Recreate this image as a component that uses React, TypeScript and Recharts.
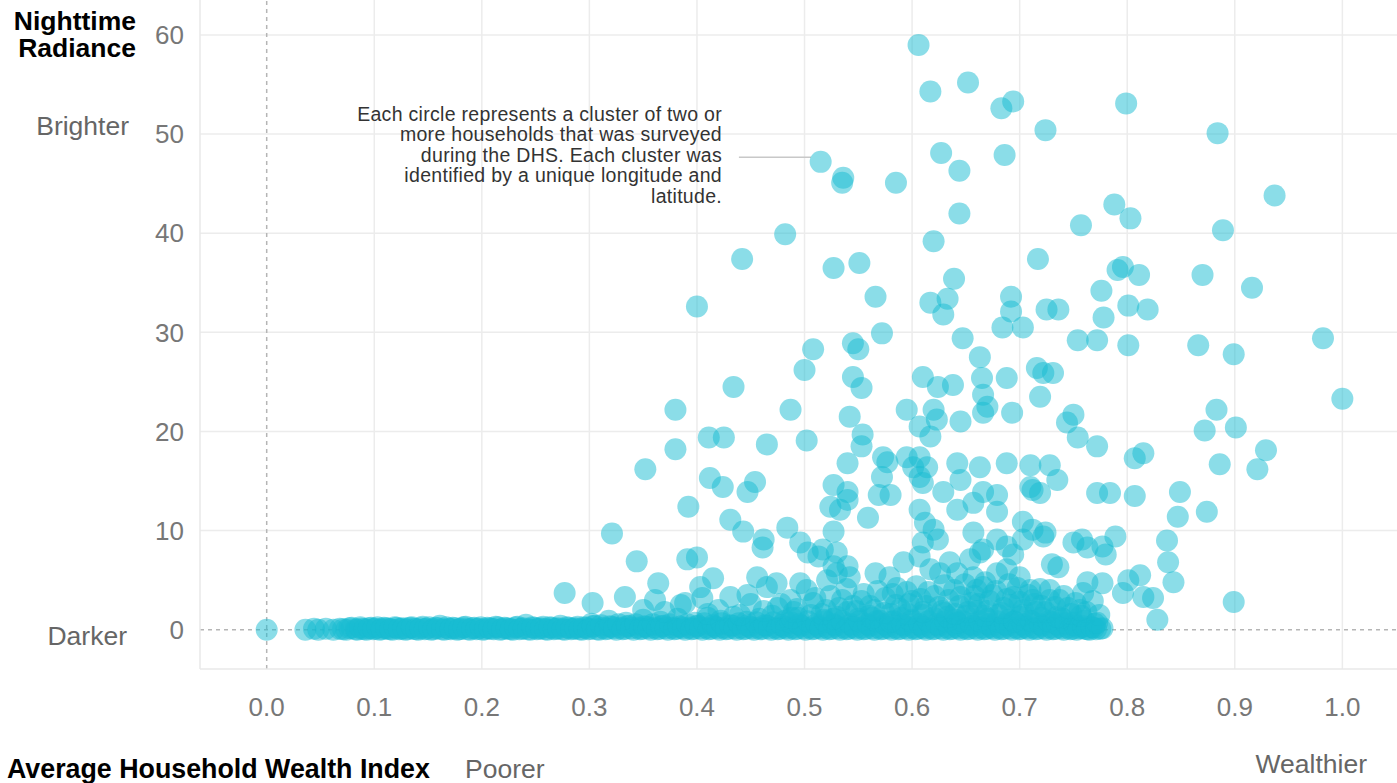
import React from "react";
import {
  ScatterChart,
  Scatter,
  XAxis,
  YAxis,
  CartesianGrid,
  ReferenceLine,
} from "recharts";

// [wealth index, nighttime radiance]
const brightClusters: [number, number][] = [
  [0.606, 59.0], [0.617, 54.3], [0.652, 55.2], [0.683, 52.6], [0.694, 53.3], [0.799, 53.1],
  [0.515, 47.2], [0.536, 45.6], [0.535, 45.1], [0.585, 45.1], [0.627, 48.1], [0.644, 46.3],
  [0.686, 47.9], [0.724, 50.4], [0.884, 50.1], [0.937, 43.8], [0.644, 42.0], [0.788, 42.9],
  [0.803, 41.5], [0.757, 40.8], [0.889, 40.3], [0.482, 39.9], [0.62, 39.2], [0.442, 37.4],
  [0.527, 36.5], [0.551, 37.0], [0.717, 37.4], [0.796, 36.6], [0.791, 36.3], [0.811, 35.8],
  [0.87, 35.8], [0.639, 35.4], [0.776, 34.2], [0.916, 34.5], [0.4, 32.6], [0.566, 33.6],
  [0.617, 33.0], [0.633, 33.4], [0.692, 33.6], [0.692, 32.1], [0.725, 32.3], [0.736, 32.3],
  [0.801, 32.7], [0.819, 32.3], [0.629, 31.8], [0.778, 31.5], [0.572, 29.9], [0.684, 30.5],
  [0.703, 30.5], [0.647, 29.4], [0.545, 28.9], [0.55, 28.3], [0.508, 28.3], [0.754, 29.2],
  [0.772, 29.2], [0.801, 28.7], [0.866, 28.7], [0.899, 27.8], [0.982, 29.4], [0.663, 27.5],
  [0.5, 26.2], [0.716, 26.4], [0.722, 25.9], [0.731, 25.9], [0.61, 25.5], [0.545, 25.5],
  [0.665, 25.4], [0.688, 25.4], [0.553, 24.4], [0.434, 24.5], [0.624, 24.5], [0.638, 24.7],
  [0.666, 23.7], [0.719, 23.5], [1.0, 23.3], [0.595, 22.2], [0.38, 22.2], [0.487, 22.2],
  [0.67, 22.5], [0.693, 21.9], [0.75, 21.7], [0.883, 22.2], [0.542, 21.5], [0.62, 22.2],
  [0.666, 21.9], [0.744, 20.9], [0.901, 20.4], [0.872, 20.1], [0.607, 20.5], [0.645, 21.0],
  [0.623, 21.2],
];

const midClusters: [number, number][] = [
  [0.754, 19.4], [0.411, 19.4], [0.425, 19.4], [0.502, 19.1], [0.554, 19.7], [0.553, 18.5],
  [0.617, 19.5], [0.772, 18.5], [0.815, 17.8], [0.807, 17.3], [0.929, 18.1], [0.38, 18.2],
  [0.465, 18.7], [0.573, 17.4], [0.577, 16.9], [0.595, 17.4], [0.601, 16.4], [0.607, 17.4],
  [0.614, 16.4], [0.642, 16.8], [0.663, 16.4], [0.688, 16.8], [0.71, 16.6], [0.728, 16.6],
  [0.886, 16.7], [0.921, 16.2], [0.352, 16.2], [0.54, 16.8], [0.412, 15.3], [0.424, 14.4],
  [0.712, 14.1], [0.71, 14.4], [0.735, 15.1], [0.645, 15.1], [0.607, 15.4], [0.572, 15.4],
  [0.527, 14.6], [0.447, 13.9], [0.454, 14.9], [0.54, 13.9], [0.569, 13.6], [0.58, 13.6],
  [0.629, 13.9], [0.666, 13.9], [0.679, 13.6], [0.719, 13.8], [0.772, 13.8], [0.784, 13.8],
  [0.807, 13.5], [0.849, 13.9], [0.61, 14.8], [0.392, 12.4], [0.524, 12.4], [0.533, 12.1],
  [0.54, 13.1], [0.559, 11.3], [0.657, 12.8], [0.642, 12.1], [0.679, 11.9], [0.607, 12.1],
  [0.874, 11.9], [0.847, 11.4], [0.431, 11.1], [0.612, 10.8], [0.703, 10.9],
];

const lowClusters: [number, number][] = [
  [0.443, 9.9], [0.484, 10.3], [0.527, 9.9], [0.62, 10.1], [0.624, 9.1], [0.657, 9.8],
  [0.712, 10.1], [0.724, 9.8], [0.321, 9.7], [0.75, 8.8], [0.758, 9.1], [0.763, 8.3],
  [0.837, 9.0], [0.777, 8.4], [0.789, 9.4], [0.462, 9.1], [0.461, 8.3], [0.496, 8.8],
  [0.503, 7.8], [0.513, 7.4], [0.53, 7.8], [0.517, 8.1], [0.61, 8.8], [0.666, 8.1],
  [0.679, 9.1], [0.688, 8.4], [0.703, 9.1], [0.722, 9.4], [0.838, 6.8], [0.4, 7.3],
  [0.344, 6.9], [0.391, 7.1], [0.73, 6.6], [0.736, 6.3], [0.54, 6.4], [0.527, 6.4],
  [0.592, 6.8], [0.607, 7.4], [0.635, 6.8], [0.663, 7.8], [0.654, 7.1], [0.694, 7.6],
  [0.415, 5.2], [0.403, 4.3], [0.364, 4.7], [0.78, 7.6], [0.801, 5.0], [0.812, 5.5],
  [0.843, 4.8], [0.763, 4.8], [0.777, 4.7], [0.899, 2.8], [0.828, 1.0], [0.824, 3.2],
  [0.815, 3.3], [0.796, 3.7], [0.277, 3.7], [0.303, 2.7], [0.333, 3.3], [0.361, 3.0],
  [0.389, 2.7], [0.756, 2.0], [0.772, 0.7], [0.737, 3.0], [0.728, 4.0], [0.759, 3.7],
  [0.735, 1.3], [0.431, 3.3], [0.447, 3.5], [0.456, 5.3], [0.465, 4.3], [0.474, 4.7],
  [0.496, 4.7], [0.502, 4.0], [0.487, 3.0], [0.521, 5.0], [0.53, 5.7], [0.542, 5.3],
  [0.566, 5.7], [0.579, 5.3], [0.586, 4.2], [0.617, 6.1], [0.626, 5.7], [0.642, 5.7],
  [0.657, 5.3], [0.666, 4.3], [0.679, 5.7], [0.688, 6.1], [0.7, 5.3], [0.71, 4.0],
  [0.712, 3.0], [0.694, 3.3], [0.42, 2.0], [0.44, 1.5], [0.45, 2.6], [0.475, 2.2],
  [0.49, 1.8], [0.51, 3.2], [0.52, 2.0], [0.535, 3.0], [0.545, 2.4], [0.555, 3.6],
  [0.565, 2.0], [0.575, 3.2], [0.585, 2.5], [0.595, 3.8], [0.6, 2.9], [0.61, 1.8],
  [0.615, 3.8], [0.625, 2.3], [0.63, 4.5], [0.64, 1.6], [0.645, 3.3], [0.655, 2.7],
  [0.66, 4.0], [0.67, 1.9], [0.675, 3.5], [0.685, 2.2], [0.69, 4.6], [0.7, 2.8],
  [0.715, 1.8], [0.72, 2.4], [0.745, 2.2], [0.35, 2.0], [0.37, 1.8], [0.385, 2.5],
  [0.405, 3.2], [0.41, 1.6],
];

const crowdedClusters: [number, number][] = [
  [0.462, 1.9], [0.478, 2.6], [0.493, 2.1], [0.508, 2.7], [0.516, 1.6], [0.524, 3.4],
  [0.532, 2.2], [0.539, 4.1], [0.548, 1.9], [0.553, 2.9], [0.561, 2.4], [0.568, 3.9],
  [0.574, 1.7], [0.582, 3.6], [0.589, 2.1], [0.597, 2.6], [0.604, 4.4], [0.608, 3.1],
  [0.613, 2.4], [0.621, 3.4], [0.628, 1.9], [0.634, 3.0], [0.639, 4.0], [0.644, 2.4],
  [0.649, 4.6], [0.652, 1.8], [0.658, 3.4], [0.662, 2.6], [0.668, 4.8], [0.672, 2.9],
  [0.678, 3.9], [0.683, 1.7], [0.688, 3.1], [0.692, 2.5], [0.698, 4.2], [0.703, 2.0],
  [0.708, 3.5], [0.714, 2.6], [0.719, 4.1], [0.724, 1.8], [0.728, 3.0], [0.733, 2.3],
  [0.741, 3.4], [0.748, 1.6], [0.752, 2.7], [0.762, 1.8], [0.768, 2.9], [0.774, 1.5],
  [0.488, 1.2], [0.527, 1.1], [0.563, 1.2], [0.596, 1.6], [0.633, 1.3], [0.667, 1.4],
  [0.702, 1.5], [0.738, 1.2], [0.757, 1.4], [0.58, 0.8], [0.642, 0.7], [0.695, 0.8],
];

const darkClusters: [number, number][] = [
  [0.0, 0], [0.036, 0], [0.044, 0.1], [0.048, 0], [0.055, 0.1], [0.062, 0], [0.068, 0.1],
  [0.074, 0], [0.079, 0.2], [0.084, 0], [0.088, 0.1], [0.093, 0], [0.097, 0.2], [0.101, 0.1],
  [0.105, 0], [0.109, 0.2], [0.113, 0.1], [0.117, 0], [0.121, 0.2], [0.125, 0.1], [0.129, 0],
  [0.133, 0.2], [0.137, 0.1], [0.141, 0], [0.145, 0.3], [0.149, 0.1], [0.153, 0], [0.157, 0.2],
  [0.161, 0.4], [0.165, 0], [0.169, 0.1], [0.173, 0.2], [0.177, 0], [0.181, 0.1], [0.185, 0.3],
  [0.189, 0], [0.193, 0.2], [0.197, 0.1], [0.201, 0], [0.205, 0.2], [0.209, 0.1], [0.213, 0.3],
  [0.217, 0], [0.221, 0.2], [0.225, 0.1], [0.229, 0], [0.233, 0.3], [0.237, 0.1], [0.241, 0.5],
  [0.245, 0], [0.249, 0.2], [0.253, 0.1], [0.257, 0.3], [0.261, 0], [0.265, 0.2], [0.269, 0.1],
  [0.273, 0.4], [0.277, 0], [0.281, 0.2], [0.285, 0.1], [0.289, 0.3], [0.293, 0], [0.297, 0.2],
  [0.301, 0.1], [0.305, 0.4], [0.309, 0], [0.313, 0.2], [0.317, 0.1], [0.321, 0.3], [0.325, 0],
  [0.329, 0.2], [0.333, 0.1], [0.337, 0.4], [0.341, 0], [0.345, 0.2], [0.349, 0.1], [0.353, 0.3],
  [0.357, 0], [0.361, 0.2], [0.365, 0.1], [0.369, 0.4], [0.373, 0], [0.377, 0.2], [0.381, 0.1],
  [0.385, 0.3], [0.389, 0], [0.393, 0.2], [0.397, 0.1], [0.401, 0.4], [0.405, 0], [0.409, 0.2],
  [0.413, 0.1], [0.417, 0.3], [0.421, 0], [0.425, 0.2], [0.429, 0.1], [0.433, 0.4], [0.437, 0],
  [0.441, 0.2], [0.445, 0.1], [0.449, 0.3], [0.453, 0], [0.457, 0.2], [0.461, 0.1], [0.465, 0.4],
  [0.469, 0], [0.473, 0.2], [0.477, 0.1], [0.481, 0.3], [0.485, 0], [0.489, 0.2], [0.493, 0.1],
  [0.497, 0.4], [0.501, 0], [0.505, 0.2], [0.509, 0.1], [0.513, 0.3], [0.517, 0], [0.521, 0.2],
  [0.525, 0.1], [0.529, 0.4], [0.533, 0], [0.537, 0.2], [0.541, 0.1], [0.545, 0.3], [0.549, 0],
  [0.553, 0.2], [0.557, 0.1], [0.561, 0.4], [0.565, 0], [0.569, 0.2], [0.573, 0.1], [0.577, 0.3],
  [0.581, 0], [0.585, 0.2], [0.589, 0.1], [0.593, 0.4], [0.597, 0], [0.601, 0.2], [0.605, 0.1],
  [0.609, 0.3], [0.613, 0], [0.617, 0.2], [0.621, 0.1], [0.625, 0.4], [0.629, 0], [0.633, 0.2],
  [0.637, 0.1], [0.641, 0.3], [0.645, 0], [0.649, 0.2], [0.653, 0.1], [0.657, 0.4], [0.661, 0],
  [0.665, 0.2], [0.669, 0.1], [0.673, 0.3], [0.677, 0], [0.681, 0.2], [0.685, 0.1], [0.689, 0.4],
  [0.693, 0], [0.697, 0.2], [0.701, 0.1], [0.705, 0.3], [0.709, 0], [0.713, 0.2], [0.717, 0.1],
  [0.721, 0.4], [0.725, 0], [0.729, 0.2], [0.733, 0.1], [0.737, 0.3], [0.741, 0], [0.745, 0.2],
  [0.749, 0.1], [0.753, 0], [0.757, 0.2], [0.761, 0.1], [0.765, 0], [0.769, 0.2], [0.775, 0.1],
  [0.302, 0.6], [0.318, 0.9], [0.334, 0.7], [0.35, 1.0], [0.366, 0.8], [0.382, 1.1],
  [0.398, 0.7], [0.41, 1.2], [0.422, 0.9], [0.434, 1.3], [0.446, 0.8], [0.458, 1.1],
  [0.47, 1.4], [0.482, 0.9], [0.494, 1.2], [0.506, 1.5], [0.518, 1.0], [0.53, 1.3],
  [0.54, 1.8], [0.55, 1.1], [0.56, 1.4], [0.57, 0.9], [0.58, 1.6], [0.59, 1.2],
  [0.6, 1.0], [0.61, 1.5], [0.62, 1.2], [0.63, 1.7], [0.64, 1.0], [0.65, 1.4],
  [0.66, 1.9], [0.67, 1.1], [0.68, 1.5], [0.69, 1.0], [0.7, 1.3], [0.71, 0.9],
  [0.72, 1.2], [0.73, 0.8], [0.74, 1.1], [0.75, 0.7], [0.76, 0.9], [0.77, 0.6],
];

const denseBandClusters: [number, number][] = [
  [0.071, 0.05], [0.077, 0.15], [0.083, 0.05], [0.087, 0.25], [0.091, 0.05], [0.095, 0.15],
  [0.099, 0.05], [0.103, 0.25], [0.107, 0.05], [0.111, 0.15], [0.115, 0.05], [0.119, 0.25],
  [0.123, 0.05], [0.127, 0.15], [0.131, 0.05], [0.135, 0.25], [0.139, 0.05], [0.143, 0.15],
  [0.147, 0.05], [0.151, 0.25], [0.155, 0.05], [0.159, 0.15], [0.163, 0.05], [0.167, 0.25],
  [0.171, 0.05], [0.175, 0.15], [0.179, 0.05], [0.183, 0.25], [0.187, 0.05], [0.191, 0.15],
  [0.195, 0.05], [0.199, 0.25], [0.203, 0.05], [0.207, 0.15], [0.211, 0.05], [0.215, 0.25],
  [0.219, 0.05], [0.223, 0.15], [0.227, 0.05], [0.231, 0.25], [0.235, 0.05], [0.239, 0.15],
  [0.243, 0.05], [0.247, 0.25], [0.251, 0.05], [0.255, 0.15], [0.259, 0.05], [0.263, 0.25],
  [0.267, 0.05], [0.271, 0.15], [0.275, 0.05], [0.279, 0.25], [0.283, 0.05], [0.287, 0.15],
  [0.291, 0.05], [0.295, 0.25], [0.299, 0.05], [0.303, 0.35], [0.307, 0.05], [0.311, 0.45],
  [0.315, 0.05], [0.319, 0.35], [0.323, 0.15], [0.327, 0.55], [0.331, 0.05], [0.335, 0.35],
  [0.339, 0.15], [0.343, 0.55], [0.347, 0.05], [0.351, 0.35], [0.355, 0.15], [0.359, 0.55],
  [0.363, 0.05], [0.367, 0.35], [0.371, 0.15], [0.375, 0.55], [0.379, 0.05], [0.383, 0.35],
  [0.387, 0.15], [0.391, 0.55], [0.395, 0.05], [0.399, 0.35], [0.403, 0.15], [0.407, 0.65],
  [0.411, 0.05], [0.415, 0.45], [0.419, 0.15], [0.423, 0.65], [0.427, 0.05], [0.431, 0.45],
  [0.435, 0.15], [0.439, 0.65], [0.443, 0.05], [0.447, 0.45], [0.451, 0.15], [0.455, 0.75],
  [0.459, 0.05], [0.463, 0.45], [0.467, 0.15], [0.471, 0.75], [0.475, 0.05], [0.479, 0.45],
  [0.483, 0.15], [0.487, 0.75], [0.491, 0.05], [0.495, 0.55], [0.499, 0.15], [0.503, 0.85],
  [0.507, 0.05], [0.511, 0.55], [0.515, 0.15], [0.519, 0.85], [0.523, 0.05], [0.527, 0.55],
  [0.531, 0.15], [0.535, 0.85], [0.539, 0.05], [0.543, 0.55], [0.547, 0.15], [0.551, 0.85],
  [0.555, 0.05], [0.559, 0.55], [0.563, 0.15], [0.567, 0.85], [0.571, 0.05], [0.575, 0.55],
  [0.579, 0.15], [0.583, 0.85], [0.587, 0.05], [0.591, 0.55], [0.595, 0.15], [0.599, 0.85],
  [0.603, 0.05], [0.607, 0.55], [0.611, 0.15], [0.615, 0.85], [0.619, 0.05], [0.623, 0.55],
  [0.627, 0.15], [0.631, 0.85], [0.635, 0.05], [0.639, 0.55], [0.643, 0.15], [0.647, 0.85],
  [0.651, 0.05], [0.655, 0.55], [0.659, 0.15], [0.663, 0.85], [0.667, 0.05], [0.671, 0.55],
  [0.675, 0.15], [0.679, 0.85], [0.683, 0.05], [0.687, 0.55], [0.691, 0.15], [0.695, 0.85],
  [0.699, 0.05], [0.703, 0.55], [0.707, 0.15], [0.711, 0.85], [0.715, 0.05], [0.719, 0.55],
  [0.723, 0.15], [0.727, 0.85], [0.731, 0.05], [0.735, 0.55], [0.739, 0.15], [0.743, 0.65],
  [0.747, 0.05], [0.751, 0.45], [0.755, 0.15], [0.759, 0.35], [0.763, 0.05], [0.767, 0.25],
  [0.771, 0.05], [0.777, 0.15],
];

const xTicks = [0, 0.1, 0.2, 0.3, 0.4, 0.5, 0.6, 0.7, 0.8, 0.9, 1.0];
const yTicks = [0, 10, 20, 30, 40, 50, 60];
const xGrid = [0.1, 0.2, 0.3, 0.4, 0.5, 0.6, 0.7, 0.8, 0.9, 1.0];
const yGrid = [10, 20, 30, 40, 50, 60];

const annotationLines = [
  "Each circle represents a cluster of two or",
  "more households that was surveyed",
  "during the DHS. Each cluster was",
  "identified by a unique longitude and",
  "latitude.",
];

const toPoints = (arr: [number, number][]) =>
  arr.map(([wealth, radiance]) => ({ wealth, radiance }));

const FONT = '"Liberation Sans", Arial, Helvetica, sans-serif';
const DOT = "#17BCD1";

const Dot = (props: any) => {
  const { cx, cy } = props;
  if (cx == null || cy == null) return null;
  return <circle cx={cx} cy={cy} r={11} fill={DOT} fillOpacity={0.5} stroke="none" />;
};

export default function App() {
  return (
    <div
      style={{
        position: "absolute",
        left: 0,
        top: 0,
        width: 1397,
        height: 783,
        background: "#fff",
        fontFamily: FONT,
        overflow: "hidden",
      }}
    >
      <ScatterChart width={1397} height={783} margin={{ top: 0, right: 0, bottom: 0, left: 0 }}>
        <CartesianGrid
          stroke="#ececec"
          strokeWidth={1.5}
          horizontalValues={yGrid}
          verticalValues={xGrid}
        />
        <XAxis
          type="number"
          dataKey="wealth"
          domain={[-0.062, 1.0508]}
          allowDataOverflow
          ticks={xTicks}
          tickFormatter={(v: number) => v.toFixed(1)}
          height={114}
          tickLine={false}
          tickSize={0}
          tickMargin={29}
          axisLine={{ stroke: "#e8e8e8", strokeWidth: 1.5 }}
          tick={{ fill: "#777", fontSize: 26, fontFamily: FONT }}
        />
        <YAxis
          type="number"
          dataKey="radiance"
          domain={[-3.96, 63.53]}
          allowDataOverflow
          ticks={yTicks}
          width={200}
          tickLine={false}
          tickSize={0}
          tickMargin={16}
          axisLine={{ stroke: "#e8e8e8", strokeWidth: 1.5 }}
          tick={{ fill: "#777", fontSize: 26, fontFamily: FONT }}
        />
        <ReferenceLine x={0} stroke="#b5b5b5" strokeWidth={1.5} strokeDasharray="4 4" />
        <ReferenceLine y={0} stroke="#b5b5b5" strokeWidth={1.5} strokeDasharray="4 4" />
        <ReferenceLine
          segment={[
            { x: 0.439, y: 47.67 },
            { x: 0.506, y: 47.67 },
          ]}
          stroke="#c8c8c8"
          strokeWidth={1.5}
        />
        <Scatter data={toPoints(darkClusters)} shape={Dot} isAnimationActive={false} />
        <Scatter data={toPoints(denseBandClusters)} shape={Dot} isAnimationActive={false} />
        <Scatter data={toPoints(crowdedClusters)} shape={Dot} isAnimationActive={false} />
        <Scatter data={toPoints(lowClusters)} shape={Dot} isAnimationActive={false} />
        <Scatter data={toPoints(midClusters)} shape={Dot} isAnimationActive={false} />
        <Scatter data={toPoints(brightClusters)} shape={Dot} isAnimationActive={false} />
      </ScatterChart>
      <svg
        width={1397}
        height={783}
        style={{ position: "absolute", left: 0, top: 0, pointerEvents: "none" }}
        fontFamily={FONT}
      >
        <text x={136} y={30} textAnchor="end" fontSize={26.5} fontWeight="bold" fill="#000">
          Nighttime
        </text>
        <text x={136} y={57} textAnchor="end" fontSize={26.5} fontWeight="bold" fill="#000">
          Radiance
        </text>
        <text x={129} y={135} textAnchor="end" fontSize={26.5} fill="#666">
          Brighter
        </text>
        <text x={127} y={645} textAnchor="end" fontSize={26.5} fill="#666">
          Darker
        </text>
        <text x={7} y={778} fontSize={26.8} fontWeight="bold" fill="#000">
          Average Household Wealth Index
        </text>
        <text x={465} y={778} fontSize={26.5} fill="#666">
          Poorer
        </text>
        <text x={1367} y={773} textAnchor="end" fontSize={26.5} fill="#666">
          Wealthier
        </text>
        {annotationLines.map((line, i) => (
          <text
            key={i}
            x={722}
            y={120.7 + i * 20.5}
            textAnchor="end"
            fontSize={19.5}
            letterSpacing={0.3}
            fill="#333"
          >
            {line}
          </text>
        ))}
      </svg>
    </div>
  );
}
